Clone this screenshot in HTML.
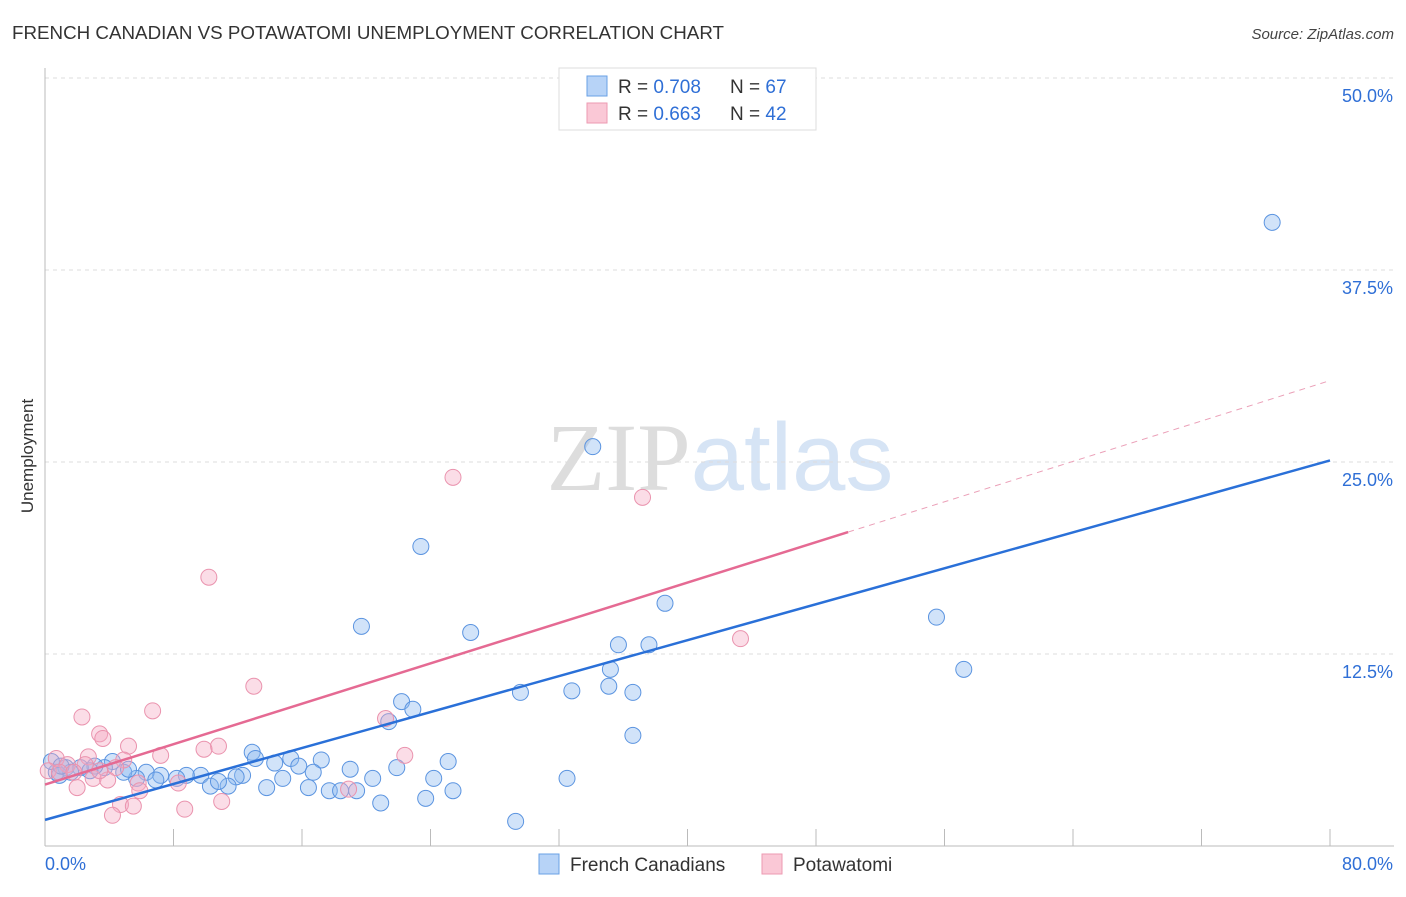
<!DOCTYPE html>
<html><head><meta charset="utf-8"><style>
body{margin:0;background:#fff;font-family:"Liberation Sans",sans-serif}
svg text{font-family:"Liberation Sans",sans-serif}
</style></head><body>
<svg id="chart" width="1406" height="892" xmlns="http://www.w3.org/2000/svg">
<text x="12" y="39" font-size="18" fill="#333" textLength="712" lengthAdjust="spacingAndGlyphs">FRENCH CANADIAN VS POTAWATOMI UNEMPLOYMENT CORRELATION CHART</text>
<text x="1394" y="39" font-size="15" fill="#444" text-anchor="end" font-style="italic">Source: ZipAtlas.com</text>
<text x="720" y="490" font-size="96" text-anchor="middle"><tspan fill="#ddd" font-family="Liberation Serif">ZIP</tspan><tspan fill="#d6e4f5">atlas</tspan></text>
<text transform="translate(33,456) rotate(-90)" font-size="17" fill="#333" text-anchor="middle">Unemployment</text>
<g id="grid"></g><g id="axes"></g><g id="pts"></g><g id="lines"></g>
<g>
<rect x="559" y="68" width="257" height="62" fill="#fff" stroke="#ddd"/>
<rect x="587" y="76" width="20" height="20" fill="#b7d3f7" stroke="#6aa0e6"/>
<text x="618" y="93" font-size="19" fill="#333">R = <tspan fill="#2f6fd6">0.708</tspan></text>
<text x="730" y="93" font-size="19" fill="#333">N = <tspan fill="#2f6fd6">67</tspan></text>
<rect x="587" y="103" width="20" height="20" fill="#fac8d6" stroke="#ec9ab2"/>
<text x="618" y="120" font-size="19" fill="#333">R = <tspan fill="#2f6fd6">0.663</tspan></text>
<text x="730" y="120" font-size="19" fill="#333">N = <tspan fill="#2f6fd6">42</tspan></text>
</g>
<g>
<rect x="539" y="854" width="20" height="20" fill="#b7d3f7" stroke="#6aa0e6"/>
<text x="570" y="871" font-size="19" fill="#333">French Canadians</text>
<rect x="762" y="854" width="20" height="20" fill="#fac8d6" stroke="#ec9ab2"/>
<text x="793" y="871" font-size="19" fill="#333">Potawatomi</text>
</g>
</svg>
<script>
const yTicks=[12.5,25,37.5,50];
const yTickLabels=["12.5%","25.0%","37.5%","50.0%"];
const blueX=[76.4,34.1,23.4,19.7,26.5,38.6,55.5,57.2,35.7,37.6,35.2,35.1,32.8,36.6,29.6,36.6,22.2,22.9,21.4,25.1,21.9,19.0,17.2,15.3,15.8,14.3,12.9,13.1,12.3,11.9,9.7,8.8,8.2,7.2,6.3,5.7,4.9,4.2,3.7,3.1,2.2,1.3,0.7,1.6,10.3,11.4,10.8,13.8,14.8,16.4,16.7,17.7,18.4,19.4,20.4,20.9,23.7,24.2,25.4,29.3,32.5,6.9,0.9,0.4,2.8,5.2,1.0];
const blueY=[40.6,26.0,19.5,14.3,13.9,15.8,14.9,11.5,13.1,13.1,11.5,10.4,10.1,10.0,10.0,7.2,9.4,8.9,8.1,5.5,5.1,5.0,5.6,5.7,5.2,5.4,6.1,5.7,4.6,4.5,4.6,4.6,4.4,4.6,4.8,4.4,4.8,5.5,5.1,5.2,5.1,5.1,4.8,4.8,3.9,3.9,4.2,3.8,4.4,3.8,4.8,3.6,3.6,3.6,4.4,2.8,3.1,4.4,3.6,1.6,4.4,4.3,4.6,5.5,4.9,5.0,5.2];
const pinkX=[25.4,37.2,10.2,43.3,13.0,6.7,2.3,21.2,3.4,3.6,10.8,9.9,5.2,7.2,22.4,2.7,4.9,0.7,1.4,2.5,4.4,0.2,0.9,3.0,3.9,5.8,8.3,5.9,2.0,18.9,4.7,5.5,11.0,8.7,4.2,3.4,1.8];
const pinkY=[24.0,22.7,17.5,13.5,10.4,8.8,8.4,8.3,7.3,7.0,6.5,6.3,6.5,5.9,5.9,5.8,5.6,5.7,5.3,5.3,5.1,4.9,4.8,4.4,4.3,4.1,4.1,3.6,3.8,3.7,2.7,2.6,2.9,2.4,2.0,4.9,4.8];
const blueFit=[1.7,25.1];
const pinkFit=[4.0,30.3];
const pinkSolidEnd=50;
const NS="http://www.w3.org/2000/svg";
const X=v=>45+v*(1285/80), Y=v=>846-v*15.36;
function mk(tag,attrs,parent){const e=document.createElementNS(NS,tag);for(const k in attrs)e.setAttribute(k,attrs[k]);document.getElementById(parent).appendChild(e);return e;}
yTicks.forEach((t,i)=>{
 const l=mk('line',{x1:45,x2:1394,y1:Y(t),y2:Y(t),stroke:'#ddd','stroke-dasharray':'4,4'},'grid');
 
 
 const tx=mk('text',{x:1393,y:Y(t)+24,'font-size':18,fill:'#2f6fd6','text-anchor':'end'},'grid');
 tx.textContent=yTickLabels[i];
 
 
});
const ax=mk('line',{x1:45,x2:1394,y1:846,y2:846,stroke:'#bbb'},'axes');


const ay=mk('line',{x1:45,x2:45,y1:68,y2:846,stroke:'#bbb'},'axes');


for(let v=8;v<=80;v+=8){const t=mk('line',{x1:X(v),x2:X(v),y1:829,y2:846,stroke:'#bbb'},'axes');
 
 }
[[0,'0.0%','start',45],[80,'80.0%','end',1393]].forEach(a=>{const t=mk('text',{x:a[3],y:870,'font-size':18,fill:'#2f6fd6','text-anchor':a[2]},'axes');t.textContent=a[1];
 
 });
blueX.forEach((x,i)=>{const c=mk('circle',{cx:X(x),cy:Y(blueY[i]),r:8,fill:'rgba(140,185,240,0.4)',stroke:'#5b94e0','stroke-width':1},'pts');
 
 });
pinkX.forEach((x,i)=>{const c=mk('circle',{cx:X(x),cy:Y(pinkY[i]),r:8,fill:'rgba(245,170,195,0.4)',stroke:'#ea93ae','stroke-width':1},'pts');
 
 });
const bl=mk('line',{x1:X(0),y1:Y(blueFit[0]),x2:X(80),y2:Y(blueFit[1]),stroke:'#2a70d8','stroke-width':2.5},'lines');


const pm=pinkFit[0]+(pinkFit[1]-pinkFit[0])*pinkSolidEnd/80;
const pl=mk('line',{x1:X(0),y1:Y(pinkFit[0]),x2:X(pinkSolidEnd),y2:Y(pm),stroke:'#e56a93','stroke-width':2.5},'lines');


const pd=mk('line',{x1:X(pinkSolidEnd),y1:Y(pm),x2:X(80),y2:Y(pinkFit[1]),stroke:'#eba0b8','stroke-width':1,'stroke-dasharray':'6,5'},'lines');


</script>
</body></html>
